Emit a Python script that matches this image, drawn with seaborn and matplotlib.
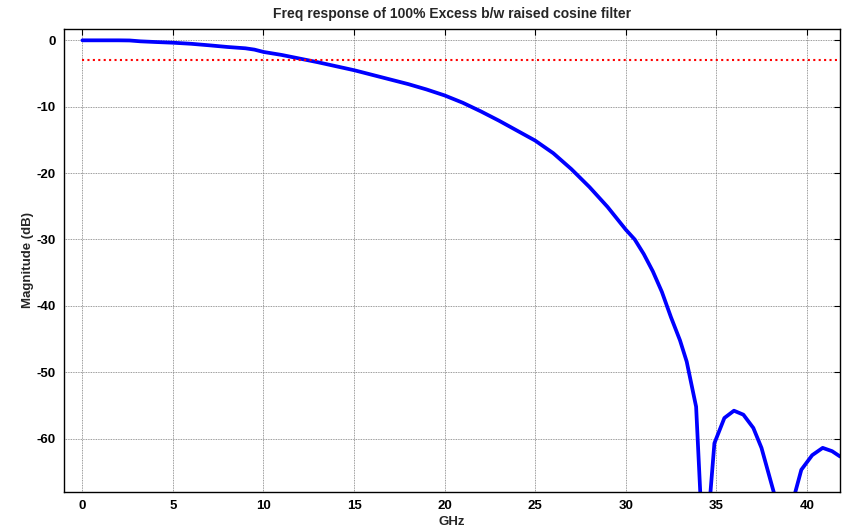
import matplotlib
matplotlib.use("Agg")
import matplotlib.pyplot as plt
import seaborn as sns
import pandas as pd

# Frequency (GHz) and magnitude (dB)
freq_ghz = [0.0, 1.0, 2.0, 2.6, 3.2, 4.0, 5.0, 6.0, 7.0, 8.0, 9.0, 9.5, 10.0,
            11.0, 12.0, 13.0, 14.0, 15.0, 16.0, 17.0, 18.0, 19.0, 20.0, 21.0,
            22.0, 23.0, 24.0, 25.0, 26.0, 27.0, 28.0, 29.0, 30.0, 30.5, 31.0,
            31.5, 32.0, 32.5, 33.0, 33.37, 33.89, 34.33, 34.9, 35.45, 35.98,
            36.5, 37.05, 37.5, 38.78, 39.7, 40.3, 40.88, 41.4, 41.84]
magnitude_db = [0.0, 0.0, 0.0, -0.02, -0.15, -0.25, -0.36, -0.52, -0.75, -1.0,
                -1.2, -1.4, -1.75, -2.2, -2.75, -3.3, -3.9, -4.5, -5.2, -5.9,
                -6.6, -7.4, -8.3, -9.4, -10.7, -12.1, -13.6, -15.1, -17.0,
                -19.4, -22.1, -25.1, -28.5, -30.0, -32.2, -34.8, -37.9, -41.7,
                -45.2, -48.4, -55.2, -80.0, -60.7, -56.9, -55.8, -56.4, -58.4,
                -61.4, -74.0, -64.7, -62.5, -61.4, -61.9, -62.7]
threshold_db = -3.0
threshold_x = [0.0, 41.84]

x_ticks = [0, 5, 10, 15, 20, 25, 30, 35, 40]
y_ticks = [0, -10, -20, -30, -40, -50, -60]

df = pd.DataFrame({"GHz": freq_ghz, "dB": magnitude_db})
thr = pd.DataFrame({"GHz": threshold_x, "dB": [threshold_db] * len(threshold_x)})

sns.set_style("white")
plt.rcParams["font.family"] = ["Liberation Sans", "DejaVu Sans"]
plt.rcParams["axes.unicode_minus"] = False

fig = plt.figure(figsize=(8.46, 5.30), dpi=100)
ax = fig.add_axes([0.076, 0.0723, 0.917, 0.8724])

sns.lineplot(data=df, x="GHz", y="dB", ax=ax, color="#0000ff", linewidth=2.7,
             sort=False, estimator=None)
sns.lineplot(data=thr, x="GHz", y="dB", ax=ax, color="#ff0000", linewidth=1.5,
             linestyle=(0, (1, 1.6)), sort=False, estimator=None)

ax.set_xlim(-1, 41.84)
ax.set_ylim(-68, 1.66)
ax.set_xticks(x_ticks)
ax.set_yticks(y_ticks)
ax.grid(True, color="#7a7a7a", linestyle=(0, (1, 1)), linewidth=0.6)
ax.set_axisbelow(True)

for s in ax.spines.values():
    s.set_visible(True)
    s.set_color("black")
    s.set_linewidth(1.0)

ax.tick_params(direction="in", length=4, width=0.8, top=True, right=True,
               labelsize=9.5, colors="black", pad=6)
for lab in ax.get_xticklabels() + ax.get_yticklabels():
    lab.set_fontweight("bold")

ax.set_title("Freq response of 100% Excess b/w raised cosine filter",
             fontsize=10, fontweight="bold", pad=8)
ax.set_xlabel("GHz", fontsize=9.5, fontweight="bold", labelpad=3)
ax.set_ylabel("Magnitude (dB)", fontsize=9.5, fontweight="bold", labelpad=2)

fig.savefig("out.png", dpi=100, facecolor="white")
